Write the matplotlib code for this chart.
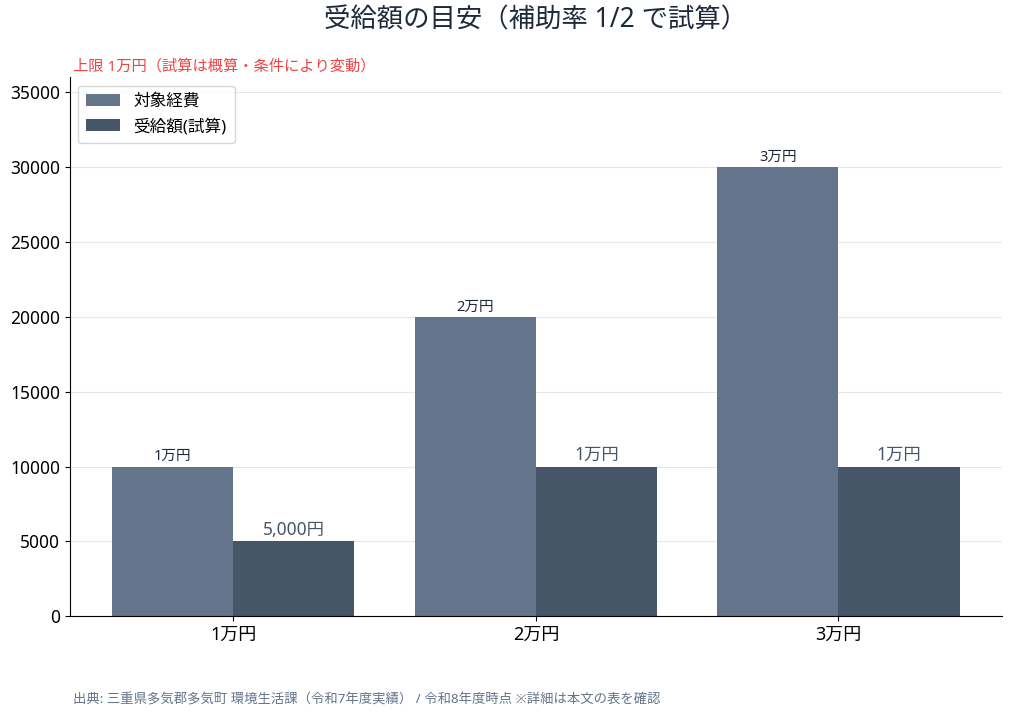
import matplotlib
matplotlib.use("Agg")
import matplotlib.pyplot as plt
import numpy as np

plt.rcParams["font.family"] = ["Noto Sans", "Noto Sans CJK JP", "DejaVu Sans"]

categories = ["1万円", "2万円", "3万円"]
target_cost = [10000, 20000, 30000]
benefit = [5000, 10000, 10000]
target_labels = ["1万円", "2万円", "3万円"]
benefit_labels = ["5,000円", "1万円", "1万円"]

fig, ax = plt.subplots(figsize=(10.11, 7.15), dpi=100)
fig.subplots_adjust(left=0.069, right=0.991, top=0.892, bottom=0.138)

x = np.arange(len(categories))
w = 0.4
b1 = ax.bar(x - w / 2, target_cost, w, color="#64748b", label="対象経費", zorder=2)
b2 = ax.bar(x + w / 2, benefit, w, color="#475569", label="受給額(試算)", zorder=2)

for rect, lab in zip(b1, target_labels):
    ax.text(rect.get_x() + rect.get_width() / 2, rect.get_height() + 150, lab,
            ha="center", va="bottom", fontsize=10.5, color="#1e293b")
for rect, lab in zip(b2, benefit_labels):
    ax.text(rect.get_x() + rect.get_width() / 2, rect.get_height() + 150, lab,
            ha="center", va="bottom", fontsize=12.5, color="#475569")

ax.set_ylim(0, 36000)
ax.set_xticks(x)
ax.set_xticklabels(categories, fontsize=13)
ax.tick_params(axis="y", labelsize=12.5)
ax.grid(True, axis="y", color="#e5e7eb", linewidth=0.8, zorder=0)
ax.set_axisbelow(True)
ax.spines["top"].set_visible(False)
ax.spines["right"].set_visible(False)

ax.legend(loc="upper left", fontsize=12, frameon=True, borderpad=0.5)

# title centred over the axes, not the figure
fig.text(0.5 * (0.069 + 0.991), 0.972, "受給額の目安（補助率 1/2 で試算）",
         fontsize=19, color="#1e293b", ha="center", va="center")
ax.text(0.003, 1.005, "上限 1万円（試算は概算・条件により変動）", transform=ax.transAxes,
        fontsize=11, color="#ef4444", ha="left", va="bottom")
fig.text(0.072, 0.012, "出典: 三重県多気郡多気町 環境生活課（令和7年度実績） / 令和8年度時点 ※詳細は本文の表を確認",
         fontsize=9.6, color="#64748b", ha="left", va="bottom")

fig.savefig("out.png", dpi=100)
